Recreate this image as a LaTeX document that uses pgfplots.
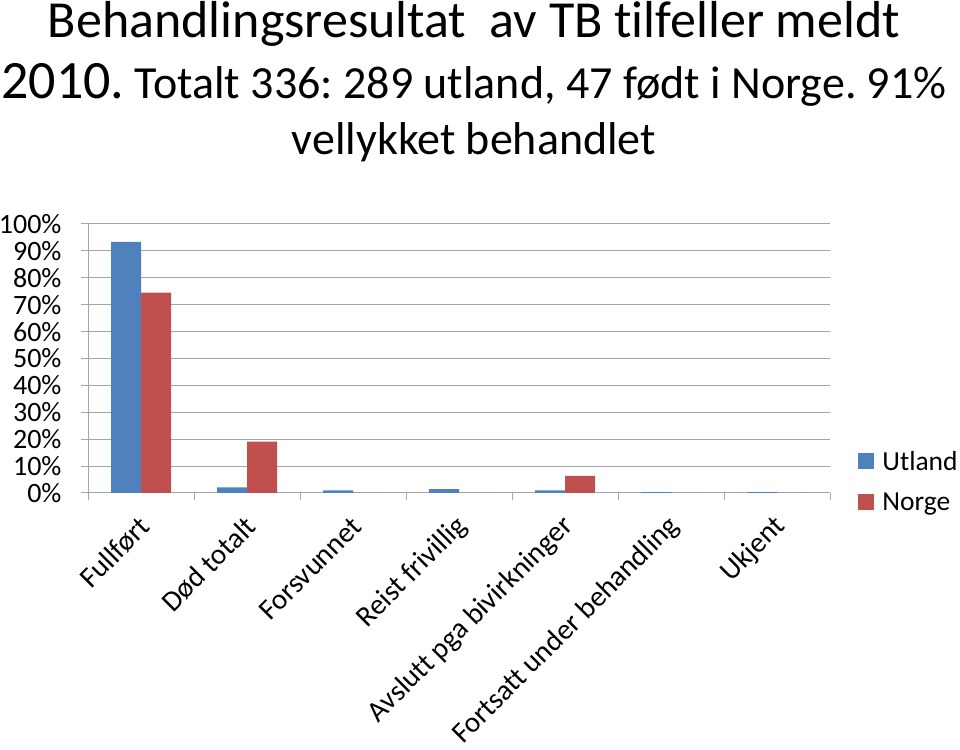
\documentclass[border=0pt]{standalone}
\usepackage{fontspec}
\setmainfont{Carlito}[Ligatures=NoCommon]
\usepackage{pgfplots}
\pgfplotsset{compat=1.18}
\definecolor{cblue}{HTML}{4F81BD}
\definecolor{cred}{HTML}{C0504D}
\definecolor{cgrid}{HTML}{A6A6A6}
\frenchspacing
\begin{document}
\begin{tikzpicture}[x=1pt,y=1pt]
\useasboundingbox (0,0) rectangle (960,749);
\node[font=\fontsize{52}{60}\selectfont, anchor=base, inner sep=0pt] at (474,711) {Behandlingsresultat\ \ av TB tilfeller meldt};
\node[font=\fontsize{46}{52}\selectfont, anchor=base, inner sep=0pt] at (474,650) {{\fontsize{54}{60}\selectfont 2010.} Totalt 336: 289 utland, 47 født i Norge. 91\%};
\node[font=\fontsize{46}{56}\selectfont, anchor=base, inner sep=0pt] at (474,594) {vellykket behandlet};
\begin{axis}[
  at={(88pt,256pt)}, anchor=south west,
  scale only axis, width=742pt, height=269pt,
  ybar=0pt, bar width=30pt,
  xmin=-0.5, xmax=6.5, ymin=0, ymax=100,
  axis x line*=bottom, axis y line*=left,
  axis line style={draw=cgrid, line width=1pt, -},
  ymajorgrids, grid style={draw=cgrid, line width=1pt},
  ytick={0,10,...,100},
  yticklabels={0\%,10\%,20\%,30\%,40\%,50\%,60\%,70\%,80\%,90\%,100\%},
  xtick={0,...,6},
  minor xtick={-0.5,0.5,...,6.5},
  xticklabels={Fullført,Død totalt,Forsvunnet,Reist frivillig,Avslutt pga bivirkninger,Fortsatt under behandling,Ukjent},
  tick align=outside,
  major x tick style={draw=none},
  minor x tick style={draw=cgrid, line width=1pt},
  y tick style={draw=cgrid, line width=1pt},
  minor tick length=7pt, major tick length=7pt,
  yticklabel style={font=\fontsize{28}{30}\selectfont, xshift=-16pt},
  xticklabel style={font=\fontsize{29}{30}\selectfont, anchor=east, xshift=4pt, yshift=-22pt, rotate=45, inner sep=0pt},
  legend style={at={(1.038,0.043)}, anchor=west, draw=none, fill=none,
    font=\fontsize{27.5}{30}\selectfont, row sep=17pt, column sep=6pt, inner sep=0pt},
  legend cell align=left,
  legend image code/.code={\fill[#1] (0pt,-8pt) rectangle (16pt,8pt);},
]
\addplot[fill=cblue, draw=none] coordinates {(0,93.4) (1,2.1) (2,1.0) (3,1.4) (4,1.0) (5,0.35) (6,0.35)};
\addplot[fill=cred, draw=none] coordinates {(0,74.5) (1,19.1) (2,0) (3,0) (4,6.4) (5,0) (6,0)};
\legend{Utland,Norge}
\end{axis}
\end{tikzpicture}
\end{document}
